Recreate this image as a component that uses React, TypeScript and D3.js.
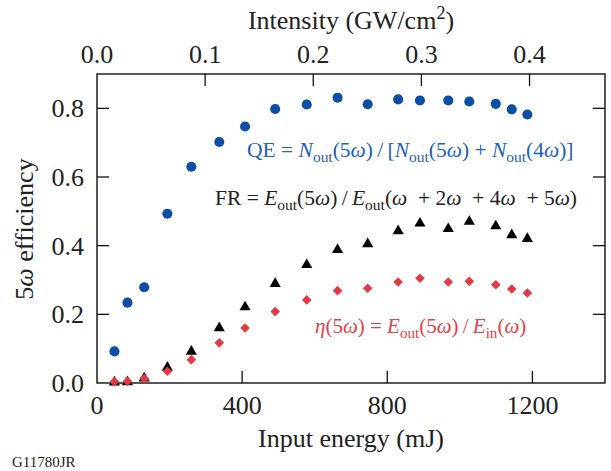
import React from 'react';
import * as d3 from 'd3';

// input energy (mJ) of each shot, shared by the three series
const energy = [48, 84, 130, 194, 260, 337, 408, 491, 578, 663, 746, 830, 890, 968, 1026, 1099, 1143, 1186];
// quantum efficiency (blue circles)
const qe = [0.092, 0.234, 0.279, 0.493, 0.63, 0.702, 0.747, 0.798, 0.811, 0.831, 0.812, 0.826, 0.823, 0.823, 0.82, 0.813, 0.797, 0.782];
// fractional energy (black triangles)
const fr = [0.002, 0.003, 0.014, 0.045, 0.092, 0.16, 0.221, 0.289, 0.344, 0.388, 0.405, 0.443, 0.465, 0.449, 0.47, 0.457, 0.431, 0.42];
// conversion efficiency (red diamonds)
const eta = [0.004, 0.005, 0.013, 0.034, 0.068, 0.117, 0.16, 0.208, 0.242, 0.269, 0.276, 0.294, 0.305, 0.294, 0.296, 0.286, 0.274, 0.262];

const xTicks = [0, 400, 800, 1200];
const yTicks = [0, 0.2, 0.4, 0.6, 0.8];
const topTicks = [0, 0.1, 0.2, 0.3, 0.4];

const W = 611, H = 471;
const margin = {top: 74, right: 6, bottom: 88, left: 97};
const FONT = '"Liberation Serif", "Times New Roman", serif';

type Part = {t: string; i?: boolean; sub?: boolean};

// draws an equation made of italic / subscript pieces
const Eq = ({x, y, fill, size, parts}: {x: number; y: number; fill: string; size: number; parts: Part[]}) => {
    let down = false;
    return (
        <text x={x} y={y} fill={fill} fontSize={size} style={{whiteSpace: 'pre'}}>
            {parts.map((p, k) => {
                let dy = 0;
                if (p.sub && !down) { dy = 5; down = true; }
                else if (!p.sub && down) { dy = -5; down = false; }
                return (
                    <tspan key={k} dy={dy} fontStyle={p.i ? 'italic' : 'normal'} fontSize={p.sub ? size * 0.72 : size}>{p.t}</tspan>
                );
            })}
        </text>
    );
};

const App = () => {
    const width = W - margin.left - margin.right;
    const height = H - margin.top - margin.bottom;

    const x = d3.scaleLinear().domain([0, 1400]).range([margin.left, margin.left + width]);
    const y = d3.scaleLinear().domain([0, 0.9]).range([margin.top + height, margin.top]);
    // intensity scale on top: 0.1 GW/cm2 per ~298 mJ
    const xTop = d3.scaleLinear().domain([0, 1400 / 2980]).range([margin.left, margin.left + width]);

    const circle = d3.symbol().type(d3.symbolCircle).size(80)()!;
    const tri = d3.symbol().type(d3.symbolTriangle).size(54)()!;
    const square = d3.symbol().type(d3.symbolSquare).size(46)()!;

    const bottom = margin.top + height;
    const right = margin.left + width;
    const tl = 12;
    const sl = '\u2009/\u2009';

    const qeText: Part[] = [
        {t: 'QE = '}, {t: 'N', i: true}, {t: 'out', sub: true}, {t: '(5'}, {t: 'ω', i: true}, {t: ')' + sl + '['},
        {t: 'N', i: true}, {t: 'out', sub: true}, {t: '(5'}, {t: 'ω', i: true}, {t: ') + '},
        {t: 'N', i: true}, {t: 'out', sub: true}, {t: '(4'}, {t: 'ω', i: true}, {t: ')]'},
    ];
    const frText: Part[] = [
        {t: 'FR = '}, {t: 'E', i: true}, {t: 'out', sub: true}, {t: '(5'}, {t: 'ω', i: true}, {t: ')' + sl},
        {t: 'E', i: true}, {t: 'out', sub: true}, {t: '('}, {t: 'ω', i: true}, {t: '  + 2'}, {t: 'ω', i: true},
        {t: '  + 4'}, {t: 'ω', i: true}, {t: '  + 5'}, {t: 'ω', i: true}, {t: ')'},
    ];
    const etaText: Part[] = [
        {t: 'η', i: true}, {t: '(5'}, {t: 'ω', i: true}, {t: ') = '}, {t: 'E', i: true}, {t: 'out', sub: true},
        {t: '(5'}, {t: 'ω', i: true}, {t: ')' + sl}, {t: 'E', i: true}, {t: 'in', sub: true}, {t: '('}, {t: 'ω', i: true}, {t: ')'},
    ];

    return (
        <svg width={W} height={H} style={{position: 'absolute', left: 0, top: 0, background: '#fff'}} fontFamily={FONT}>
            {/* frame */}
            <rect x={margin.left} y={margin.top} width={width} height={height} fill="none" stroke="#111" strokeWidth={1.4} />

            {/* bottom axis */}
            {xTicks.map(t => (
                <g key={'xb' + t}>
                    {t > 0 && <line x1={x(t)} x2={x(t)} y1={bottom} y2={bottom - tl} stroke="#111" strokeWidth={1.3} />}
                    <text x={x(t)} y={414} textAnchor="middle" fontSize={26} fill="#222">{t}</text>
                </g>
            ))}
            <text x={351} y={447} textAnchor="middle" fontSize={26} fill="#222">Input energy (mJ)</text>

            {/* left + right axis */}
            {yTicks.map(t => (
                <g key={'y' + t}>
                    {t > 0 && <line x1={margin.left} x2={margin.left + tl} y1={y(t)} y2={y(t)} stroke="#111" strokeWidth={1.3} />}
                    {t > 0 && <line x1={right} x2={right - tl} y1={y(t)} y2={y(t)} stroke="#111" strokeWidth={1.3} />}
                    <text x={84} y={y(t) + 9} textAnchor="end" fontSize={26} fill="#222">{t.toFixed(1)}</text>
                </g>
            ))}
            <text transform="translate(33,229) rotate(-90)" textAnchor="middle" fontSize={26} fill="#222">
                5<tspan fontStyle="italic">ω</tspan> efficiency
            </text>

            {/* top axis */}
            {topTicks.map(t => (
                <g key={'xt' + t}>
                    {t > 0 && <line x1={xTop(t)} x2={xTop(t)} y1={margin.top} y2={margin.top + tl} stroke="#111" strokeWidth={1.3} />}
                    <text x={xTop(t)} y={62.5} textAnchor="middle" fontSize={26} fill="#222">{t.toFixed(1)}</text>
                </g>
            ))}
            <text x={351} y={29} textAnchor="middle" fontSize={26} fill="#222">
                Intensity (GW/cm<tspan dy={-10} fontSize={18}>2</tspan><tspan dy={10}>)</tspan>
            </text>

            {/* data */}
            {energy.map((e, i) => (
                <path key={'q' + i} d={circle} transform={`translate(${x(e)},${y(qe[i])})`} fill="#0b4ea6" />
            ))}
            {energy.map((e, i) => (
                <path key={'f' + i} d={tri} transform={`translate(${x(e)},${y(fr[i])})`} fill="#000" />
            ))}
            {energy.map((e, i) => (
                <path key={'e' + i} d={square} transform={`translate(${x(e)},${y(eta[i])}) rotate(45)`} fill="#e13a44" />
            ))}

            {/* annotations */}
            <Eq x={247} y={157} fill="#2262b3" size={21.5} parts={qeText} />
            <Eq x={215} y={205} fill="#222" size={21.5} parts={frText} />
            <Eq x={315} y={333} fill="#e3404a" size={21} parts={etaText} />

            <text x={12} y={467} fontSize={15} fill="#222">G11780JR</text>
        </svg>
    );
};

export default App;
